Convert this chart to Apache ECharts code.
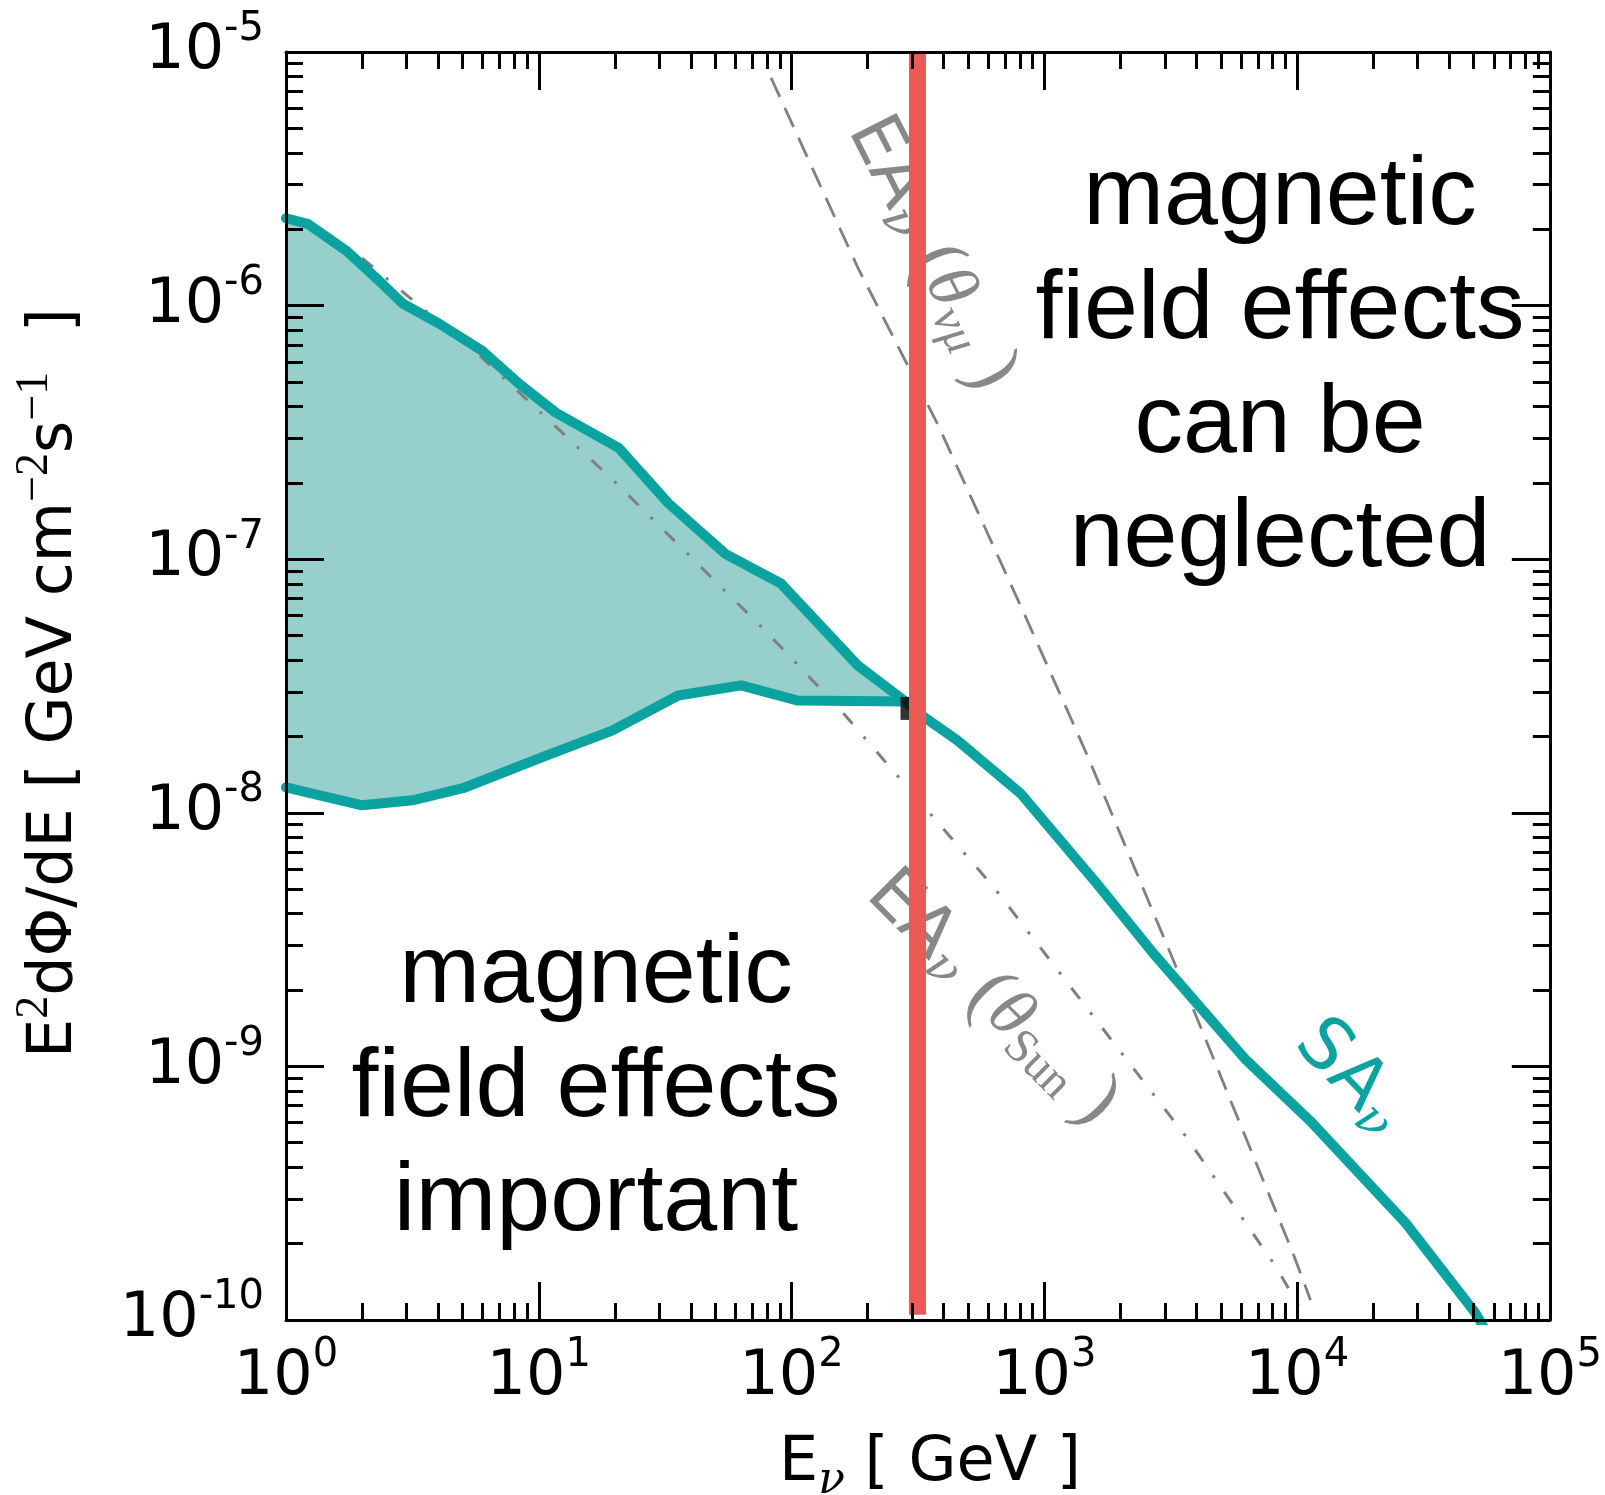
<!DOCTYPE html>
<html>
<head>
<meta charset="utf-8">
<script src="https://cdn.jsdelivr.net/npm/echarts@6.0.0/dist/echarts.min.js"></script>
<style>
  html, body { margin: 0; padding: 0; background: #ffffff; }
  #chart { width: 1605px; height: 1495px; }
</style>
</head>
<body>
<div id="chart"></div>
<script>
// Neutrino energy E (GeV) and flux E^2 dPhi/dE (GeV cm^-2 s^-1)

// Upper and lower edge of the shaded band (solar atmospheric neutrinos, low energy)
const bandUpperE = [1, 1.22, 1.74, 2.34, 2.89, 4.05, 5.97, 8.36, 11.7, 20.7, 32.6, 54.7, 90.8, 183, 282];
const bandUpperFlux = [2.21e-6, 2.10e-6, 1.64e-6, 1.25e-6, 1.02e-6, 8.47e-7, 6.64e-7, 4.92e-7, 3.78e-7, 2.75e-7, 1.66e-7, 1.05e-7, 8.02e-8, 3.81e-8, 2.75e-8];
const bandLowerE = [1, 2.0, 3.16, 5.01, 10.7, 19.5, 35.6, 63.2, 106, 282];
const bandLowerFlux = [1.26e-8, 1.07e-8, 1.12e-8, 1.25e-8, 1.68e-8, 2.11e-8, 2.90e-8, 3.18e-8, 2.77e-8, 2.75e-8];

// SA nu curve above the threshold
const saE = [282, 336, 453, 807, 1610, 2700, 6280, 11500, 26900, 50600, 55000];
const saFlux = [2.75e-8, 2.38e-8, 1.93e-8, 1.19e-8, 5.27e-9, 2.79e-9, 1.06e-9, 5.97e-10, 2.41e-10, 1.07e-10, 9.3e-11];

// Earth atmospheric neutrinos, Sun direction (dash-dot)
const eaSunE = [2.0, 5.97, 20.3, 78.5, 157, 632, 3650, 8260, 10500];
const eaSunFlux = [1.54e-6, 6.22e-7, 1.99e-7, 5.24e-8, 2.53e-8, 5.08e-9, 5.26e-10, 1.62e-10, 1.07e-10];

// Earth atmospheric neutrinos, nu-mu angle (dashed)
const eaNumuE = [83.0, 183, 378, 832, 1470, 3240, 9620, 11300];
const eaNumuFlux = [7.91e-6, 1.41e-6, 3.42e-7, 6.11e-8, 1.71e-8, 2.62e-9, 1.84e-10, 1.20e-10];

// Energy above which magnetic field effects can be neglected
const thresholdE = 315;
const thresholdFlux = [1.05e-10, 1e-5];
const junctionPoint = [301, 2.58e-8];

// Axis ranges and tick positions
const xRange = [1, 1e5];
const yRange = [1e-10, 1e-5];
const xDecadeExps = [0, 1, 2, 3, 4];
const yDecadeExps = [-10, -9, -8, -7, -6];
const minorMultipliers = [2, 3, 4, 5, 6, 7, 8, 9];

const xMinorTicks = [];
xDecadeExps.forEach(n => minorMultipliers.forEach(m => xMinorTicks.push(n + Math.log10(m))));
const yMinorTicks = [];
yDecadeExps.forEach(n => minorMultipliers.forEach(m => yMinorTicks.push(n + Math.log10(m))));

const zip = (a, b) => a.map((v, i) => [v, b[i]]);

const TEAL = '#0aa39f';
const BAND_FILL = '#97cfcd';
const RED = '#eb5b55';
const GRAY = '#808080';
const TEXT_GRAY = '#888888';

// Tick labels as 10^n with a raised exponent
const powLabel = v => '{b|10}{s|' + Math.round(Math.log10(v)) + '}';
const powRich = {
  b: { fontFamily: 'DejaVu Sans', fontSize: 62, lineHeight: 62, verticalAlign: 'middle', color: '#000' },
  s: { fontFamily: 'DejaVu Sans', fontSize: 40, verticalAlign: 'top', padding: [0, 0, 44, 0], color: '#000' }
};

const spine = { show: true, onZero: false, lineStyle: { color: '#000', width: 3 } };
const majorTick = { show: true, inside: true, length: 38, lineStyle: { color: '#000', width: 3 } };
const minorTickStyle = { color: '#000', width: 3 };

function logAxis(position, range, withLabels, labelMargin) {
  return {
    type: 'log', logBase: 10, min: range[0], max: range[1], position: position, z: 10,
    axisLine: spine,
    axisTick: majorTick,
    axisLabel: withLabels ? {
      show: true, margin: labelMargin, formatter: powLabel, rich: powRich,
      showMinLabel: true, showMaxLabel: true
    } : { show: false },
    splitLine: { show: false }, minorTick: { show: false }, minorSplitLine: { show: false }
  };
}
function minorAxis(position, lo, hi, ticks) {
  return {
    type: 'value', min: lo, max: hi, position: position, z: 10,
    axisLine: { show: false, onZero: false },
    axisTick: { show: true, inside: true, length: 17, customValues: ticks, lineStyle: minorTickStyle },
    axisLabel: { show: false },
    splitLine: { show: false }
  };
}

// Shaded region between the lower and upper edge of the band
function renderBand(params, api) {
  if (params.dataIndex !== 0) return;
  const pts = [];
  for (let i = 0; i < bandUpperE.length; i++) pts.push(api.coord([bandUpperE[i], bandUpperFlux[i]]));
  for (let i = bandLowerE.length - 1; i >= 0; i--) pts.push(api.coord([bandLowerE[i], bandLowerFlux[i]]));
  return { type: 'polygon', shape: { points: pts }, style: { fill: BAND_FILL } };
}

// Rich styles for the math-like curve labels (subscripts dropped by top padding)
function mathRich(color, main) {
  const sub = Math.round(main * 0.68);
  const drop = main + 10 - sub;
  return {
    m: { fontFamily: 'DejaVu Sans', fontSize: main, lineHeight: main + 10, verticalAlign: 'middle', fill: color },
    n: { fontFamily: 'DejaVu Serif', fontStyle: 'italic', fontSize: sub, verticalAlign: 'top', padding: [drop, 0, 0, 0], fill: color },
    p: { fontFamily: 'Liberation Serif', fontSize: main + 8, lineHeight: main + 10, verticalAlign: 'middle', fill: color },
    t: { fontFamily: 'Liberation Serif', fontStyle: 'italic', fontSize: main, lineHeight: main + 10, verticalAlign: 'middle', fill: color },
    si: { fontFamily: 'Liberation Serif', fontStyle: 'italic', fontSize: sub, verticalAlign: 'top', padding: [drop, 0, 0, 0], fill: color },
    sr: { fontFamily: 'Liberation Serif', fontSize: sub, verticalAlign: 'top', padding: [drop, 0, 0, 0], fill: color },
    sp: { fontFamily: 'DejaVu Sans', fontSize: main, lineHeight: main + 10, verticalAlign: 'middle', fill: color }
  };
}

const chart = echarts.init(document.getElementById('chart'), null, { renderer: 'canvas' });

chart.setOption({
  animation: false,
  backgroundColor: '#ffffff',
  grid: { left: 286, top: 52, width: 1269, height: 1268, containLabel: false },
  xAxis: [
    logAxis('bottom', xRange, true, 16),
    minorAxis('bottom', 0, 5, xMinorTicks),
    logAxis('top', xRange, false, 0),
    minorAxis('top', 0, 5, xMinorTicks)
  ],
  yAxis: [
    logAxis('left', yRange, true, 22),
    minorAxis('left', -10, -5, yMinorTicks),
    logAxis('right', yRange, false, 0),
    minorAxis('right', -10, -5, yMinorTicks)
  ],
  series: [
    {
      type: 'custom', name: 'band', renderItem: renderBand, z: 1, silent: true,
      data: [[bandUpperE[0], bandUpperFlux[0]]]
    },
    {
      type: 'line', name: 'EA nu (theta Sun)', data: zip(eaSunE, eaSunFlux), z: 2,
      symbol: 'none', showSymbol: false, silent: true,
      lineStyle: { color: GRAY, width: 3, type: [14, 17, 3, 17] }
    },
    {
      type: 'line', name: 'EA nu (theta nu mu)', data: zip(eaNumuE, eaNumuFlux), z: 2,
      symbol: 'none', showSymbol: false, silent: true,
      lineStyle: { color: GRAY, width: 2.8, type: [21, 12] }
    },
    {
      type: 'line', name: 'band lower', data: zip(bandLowerE, bandLowerFlux), z: 3,
      symbol: 'none', showSymbol: false, silent: true,
      lineStyle: { color: TEAL, width: 10, join: 'round', cap: 'round' }
    },
    {
      type: 'line', name: 'SA nu', data: zip(bandUpperE, bandUpperFlux).concat(zip(saE, saFlux).slice(1)), z: 3,
      symbol: 'none', showSymbol: false, silent: true,
      lineStyle: { color: TEAL, width: 10, join: 'round', cap: 'round' }
    },
    {
      type: 'scatter', name: 'junction', data: [junctionPoint], z: 4, silent: true,
      symbol: 'rect', symbolSize: [24, 23], itemStyle: { color: '#000' }
    },
    {
      type: 'line', name: 'threshold', data: thresholdFlux.map(f => [thresholdE, f]), z: 5,
      symbol: 'none', showSymbol: false, silent: true,
      lineStyle: { color: RED, width: 17, cap: 'butt' }
    }
  ],
  graphic: [
    {
      type: 'text', x: 1280, y: 368, z: 100,
      style: {
        text: 'magnetic\nfield effects\ncan be\nneglected',
        fontFamily: 'Liberation Sans', fontSize: 97, lineHeight: 114,
        fill: '#000', align: 'center', verticalAlign: 'middle'
      }
    },
    {
      type: 'text', x: 596, y: 1089, z: 100,
      style: {
        text: 'magnetic\nfield effects\nimportant',
        fontFamily: 'Liberation Sans', fontSize: 97, lineHeight: 114,
        fill: '#000', align: 'center', verticalAlign: 'middle'
      }
    },
    {
      type: 'text', x: 931, y: 253, z: 3, rotation: -63 * Math.PI / 180,
      style: {
        text: '{m|EA}{n|ν}{sp| }{p|(}{t|θ}{si|νμ}{p| )}',
        rich: mathRich(TEXT_GRAY, 70), align: 'center', verticalAlign: 'middle'
      }
    },
    {
      type: 'text', x: 992, y: 998, z: 3, rotation: -45 * Math.PI / 180,
      style: {
        text: '{m|EA}{n|ν}{sp| }{p|(}{t|θ}{sr|Sun}{p| )}',
        rich: mathRich(TEXT_GRAY, 70), align: 'center', verticalAlign: 'middle'
      }
    },
    {
      type: 'text', x: 1350, y: 1077, z: 3, rotation: -46 * Math.PI / 180,
      style: {
        text: '{m|SA}{n|ν}',
        rich: mathRich(TEAL, 72), align: 'center', verticalAlign: 'middle'
      }
    },
    {
      type: 'text', x: 930, y: 1464, z: 100,
      style: {
        text: '{t|E}{n|ν}{t| [ GeV ]}',
        rich: {
          t: { fontFamily: 'DejaVu Sans', fontSize: 62, lineHeight: 72, verticalAlign: 'middle', fill: '#000' },
          n: { fontFamily: 'DejaVu Serif', fontStyle: 'italic', fontSize: 44, verticalAlign: 'top', padding: [36, 0, 0, 0], fill: '#000' }
        },
        align: 'center', verticalAlign: 'middle'
      }
    },
    {
      type: 'text', x: 55, y: 683, z: 100, rotation: Math.PI / 2,
      style: {
        text: '{t|E}{u|2}{t|dΦ/dE [ GeV cm}{u|−2}{t|s}{u|−1}{t|  ]}',
        rich: {
          t: { fontFamily: 'DejaVu Sans', fontSize: 62, lineHeight: 72, verticalAlign: 'middle', fill: '#000' },
          u: { fontFamily: 'Liberation Serif', fontSize: 46, verticalAlign: 'top', padding: [0, 0, 40, 0], fill: '#000' }
        },
        align: 'center', verticalAlign: 'middle'
      }
    }
  ]
});
</script>
</body>
</html>
